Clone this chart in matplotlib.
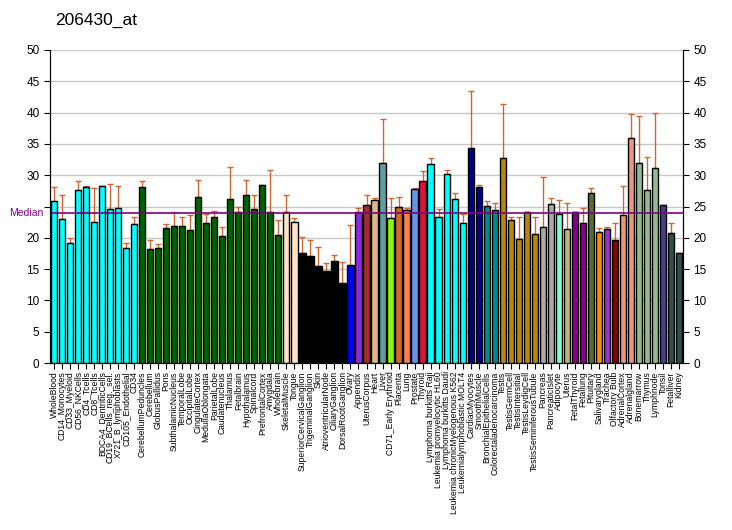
import matplotlib
matplotlib.use("Agg")
import matplotlib.pyplot as plt
import numpy as np

plt.rcParams['font.family'] = ['Liberation Sans', 'DejaVu Sans']

labels = ["WholeBlood", "CD14_Monocytes", "CD33_Myeloid", "CD56_NKCells", "CD4_Tcells",
          "CD8_Tcells", "BDCA4_DentriticCells", "CD19_BCells_neg._sel.", "X721_B_lymphoblasts",
          "CD105_Endothelial", "CD34", "CerebellumPeduncles", "Cerebellum", "GlobusPallidus",
          "Pons", "SubthalamicNucleus", "TemporalLobe", "OccipitalLobe", "CingulateCortex",
          "MedullaOblongata", "ParietalLobe", "Caudatenucleus", "Thalamus", "Fetalbrain",
          "Hypothalamus", "Spinalcord", "PrefrontalCortex", "Amygdala", "Wholebrain",
          "SkeletalMuscle", "Tongue", "SuperiorCervicalGanglion", "TrigeminalGanglion", "Skin",
          "AtrioventricularNode", "CiliaryGanglion", "DorsalRootGanglion", "Ovary", "Appendix",
          "UterusCorpus", "Heart", "Liver", "CD71_Early Erythroid", "Placenta", "Lung",
          "Prostate", "Thyroid", "Lymphoma burkitts Raji", "Leukemia promyelocytic HL60",
          "Lymphoma burkitts Daudi", "Leukemia chronicMyelogenous K562",
          "Leukemialymphoblastic MOLT4", "CardiacMyocytes", "SmoothMuscle",
          "BronchialEpithelialCells", "Colorectaladenocarcinoma", "Testis", "TestisGermCell",
          "TestisIntersitial", "TestisLeydigCell", "TestisSeminiferousTubule", "Pancreas",
          "PancreaticIslet", "Adipocyte", "Uterus", "FetalThyroid", "Fetallung", "Pituitary",
          "Salivarygland", "Trachea", "Olfactory Bulb", "AdrenalCortex", "Adrenalgland",
          "Bonemarrow", "Thymus", "Lymphnode", "Tonsil", "Fetalliver", "Kidney"]

values = [25.9, 23.0, 19.2, 27.6, 28.1, 22.5, 28.2, 24.6, 24.8, 18.4, 22.2,
          28.1, 18.2, 18.4, 21.6, 21.9, 21.9, 21.2, 26.5, 22.4, 23.3, 20.3, 26.2, 24.1,
          26.8, 24.6, 28.4, 24.1, 20.4,
          24.1, 22.5, 17.6, 17.1, 15.5, 14.7, 16.3, 12.8, 15.7, 24.1, 25.2, 26.0, 31.9,
          23.1, 24.9, 24.4, 27.8, 29.1, 31.8, 23.3, 30.2, 26.2, 22.4, 34.3, 28.1, 25.1,
          24.5, 32.7, 22.8, 19.8, 24.1, 20.6, 21.7, 25.4, 23.8, 21.4, 24.1, 22.3, 27.1,
          21.0, 21.4, 19.6, 23.6, 35.9, 31.9, 27.7, 31.1, 25.2, 20.7, 17.5]

err_top = [28.1, 26.8, 20.0, 29.0, 28.2, 28.0, 28.2, 28.6, 28.2, 19.1, 23.3,
           29.0, 19.6, 19.0, 22.2, 24.1, 23.4, 23.6, 29.2, 23.8, 24.3, 21.7, 31.3, 24.9,
           29.2, 26.8, 28.4, 30.8, 22.8,
           26.8, 23.1, 20.1, 19.6, 18.6, 15.9, 17.2, 16.2, 22.0, 24.7, 26.8, 26.3, 39.0,
           26.3, 26.5, 24.7, 27.9, 30.7, 32.7, 24.6, 30.9, 27.2, 23.8, 43.5, 28.4, 25.8,
           25.5, 41.4, 23.3, 23.3, 24.1, 23.3, 29.7, 26.3, 26.0, 25.5, 24.1, 24.7, 27.9,
           21.5, 21.7, 22.3, 28.2, 39.7, 39.4, 32.9, 40.0, 25.3, 22.3, 17.6]

colors = (["#00FFFF"] * 11 + ["#006400"] * 18 + ["#FFE4C4"] * 2 + ["#000000"] * 6 +
          ["#0000FF", "#8A2BE2", "#A52A2A", "#DEB887", "#5F9EA0", "#7FFF00", "#D2691E",
           "#FF7F50", "#6495ED", "#DC143C"] + ["#00FFFF"] * 5 + ["#00008B", "#00008B"] +
          ["#008B8B"] * 2 + ["#B8860B"] * 5 + ["#A9A9A9"] * 2 +
          ["#7FFFD4", "#BDB76B", "#8B008B", "#8B008B", "#556B2F", "#FF8C00", "#9932CC",
           "#8B0000", "#E9967A", "#E9967A"] + ["#8FBC8F"] * 3 +
          ["#483D8B", "#2F4F4F", "#2F4F4F"])

median = 23.9
yticks = list(range(0, 51, 5))

fig = plt.figure(figsize=(7.32, 5.30), dpi=100)
ax = fig.add_axes([50/732, 1-363/530, 633/732, 313/530])

x = np.arange(len(values))
vals = np.array(values)
tops = np.array(err_top)
ax.bar(x, vals, width=0.78, color=colors, edgecolor='black', linewidth=1.0, zorder=3)
ax.errorbar(x, vals, yerr=[np.zeros_like(vals), tops - vals], fmt='none',
            ecolor='#CC6633', elinewidth=1.0, capsize=2.5, capthick=1.0, zorder=2)

ax.axhline(median, color='#800080', lw=1.2, zorder=4)
ax.text(-0.011, median, "Median", color='#800080', fontsize=7.5, ha='right', va='center',
        transform=ax.get_yaxis_transform())

ax.set_xlim(-0.5, len(values) - 0.5)
ax.set_ylim(0, 50)
ax.set_yticks(yticks)
# left labels: the one next to the median label is left out, as in the reference
ax.set_yticklabels(["" if t == 25 else str(t) for t in yticks])
ax.yaxis.grid(True, color='#C8C8C8', lw=1.0, zorder=0)
ax.set_axisbelow(True)
ax.tick_params(axis='y', labelsize=8.5, length=4, right=True)

axr = ax.twinx()
axr.set_ylim(0, 50)
axr.set_yticks(yticks)
axr.set_yticklabels([str(t) for t in yticks])
axr.tick_params(axis='y', labelsize=8.5, length=4)
axr.spines['top'].set_visible(False)

ax.set_xticks(x)
ax.set_xticklabels(labels, rotation=90, fontsize=6.2)
ax.tick_params(axis='x', length=4, pad=2)
ax.spines['top'].set_visible(False)

fig.text(55/732, 1-20/530, "206430_at", fontsize=12.5, ha='left', va='center')

fig.savefig("out.png", dpi=100)
